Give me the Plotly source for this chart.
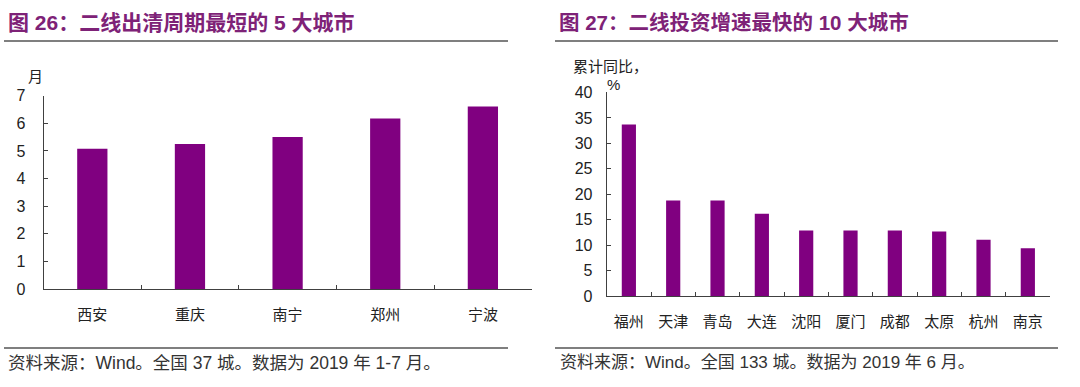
import plotly.graph_objects as go

W, H = 1080, 387

left_cities = ["西安", "重庆", "南宁", "郑州", "宁波"]
left_values = [5.08, 5.25, 5.5, 6.17, 6.61]

right_cities = ["福州", "天津", "青岛", "大连", "沈阳", "厦门", "成都", "太原", "杭州", "南京"]
right_values = [33.7, 18.8, 18.8, 16.2, 12.9, 12.9, 12.9, 12.7, 11.1, 9.4]

left_title = "图 26：二线出清周期最短的 5 大城市"
right_title = "图 27：二线投资增速最快的 10 大城市"
left_source = "资料来源：Wind。全国 37 城。数据为 2019 年 1-7 月。"
right_source = "资料来源：Wind。全国 133 城。数据为 2019 年 6 月。"

BAR = "#800080"
TITLE_C = "#7E2277"
AX = "#404040"
FONT = "Liberation Sans, Noto Sans CJK SC, sans-serif"
CJK = "Noto Sans CJK SC, sans-serif"

def px_x(p):
    return p / W

def px_y(p):
    return 1 - p / H

fig = go.Figure()
fig.add_trace(go.Bar(x=left_cities, y=left_values, marker_color=BAR,
                     marker_line_width=0, xaxis="x", yaxis="y", showlegend=False,
                     width=0.31))
fig.add_trace(go.Bar(x=right_cities, y=right_values, marker_color=BAR,
                     marker_line_width=0, xaxis="x2", yaxis="y2", showlegend=False,
                     width=0.32))

common_x = dict(type="category", showline=True, linecolor=AX, linewidth=1,
                ticks="inside", ticklen=4, tickcolor=AX, tickson="boundaries",
                showgrid=False, zeroline=False,
                tickfont=dict(family=CJK, size=15, color="#222"))
common_y = dict(showline=True, linecolor=AX, linewidth=1, ticks="inside",
                ticklen=4, tickcolor=AX, showgrid=False, zeroline=False,
                tickfont=dict(family=FONT, size=16, color="#222"))

fig.update_layout(
    width=W, height=H, margin=dict(l=0, r=0, t=0, b=0),
    paper_bgcolor="white", plot_bgcolor="white",
    xaxis=dict(domain=[px_x(43.5), px_x(531.7)], range=[-0.5, 4.5],
               ticklabelstandoff=12, **common_x),
    yaxis=dict(domain=[px_y(294), px_y(91.7)], range=[0, 7], dtick=1,
               anchor="x", ticklabelstandoff=14, **common_y),
    xaxis2=dict(domain=[px_x(606.7), px_x(1050)], range=[-0.5, 9.5], anchor="y2",
                ticklabelstandoff=12, **common_x),
    yaxis2=dict(domain=[px_y(301.5), px_y(88.3)], range=[0, 40], dtick=5,
                anchor="x2", ticklabelstandoff=10, **common_y),
)

shapes = []
for x0, x1 in [(4, 508), (555, 1058)]:
    for yy in [34.5, 355.5]:
        shapes.append(dict(type="line", xref="paper", yref="paper",
                           x0=px_x(x0), x1=px_x(x1), y0=px_y(yy), y1=px_y(yy),
                           line=dict(color="#555", width=1.5)))
fig.update_layout(shapes=shapes)

ann = []
ann.append(dict(text="<b>" + left_title + "</b>", x=px_x(6), y=px_y(15),
                font=dict(family=FONT, size=21, color=TITLE_C)))
ann.append(dict(text="<b>" + right_title + "</b>", x=px_x(557), y=px_y(15),
                font=dict(family=FONT, size=20.5, color=TITLE_C)))
ann.append(dict(text=left_source, x=px_x(6), y=px_y(371),
                font=dict(family=FONT, size=17.5, color="#333")))
ann.append(dict(text=right_source, x=px_x(558), y=px_y(371),
                font=dict(family=FONT, size=17, color="#333")))
ann.append(dict(text="月", x=px_x(26), y=px_y(71),
                font=dict(family=CJK, size=15, color="#222")))
ann.append(dict(text="累计同比，", x=px_x(571), y=px_y(60),
                font=dict(family=CJK, size=15, color="#222")))
ann.append(dict(text="%", x=px_x(605), y=px_y(80),
                font=dict(family=FONT, size=15, color="#222")))
for a in ann:
    a.update(xref="paper", yref="paper", xanchor="left", yanchor="middle",
             showarrow=False)
fig.update_layout(annotations=ann)

ps = """
document.documentElement.style.margin='0';
document.documentElement.style.overflow='hidden';
document.body.style.margin='0';
document.body.style.overflow='hidden';
"""
fig.write_html("out.html", post_script=ps, config={"displayModeBar": False})
